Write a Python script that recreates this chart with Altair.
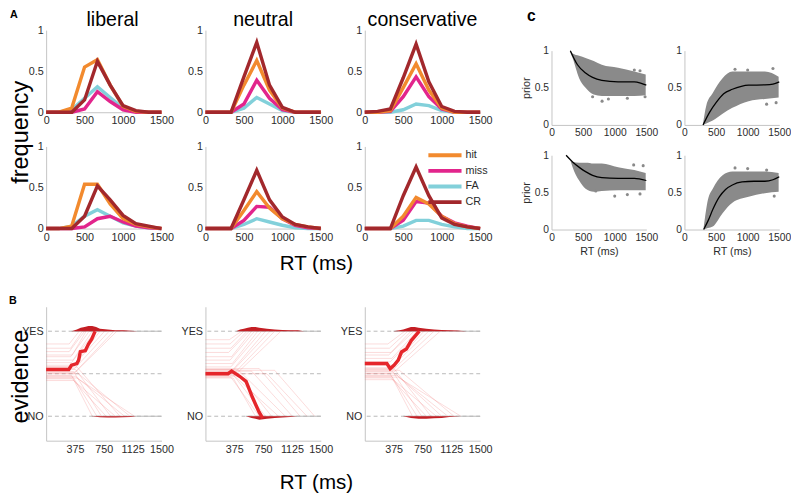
import altair as alt
import pandas as pd

FONT = "Liberation Sans"

# ---------------- Panel A: RT frequency distributions ----------------
RT_BINS = [0, 167, 333, 500, 667, 833, 1000, 1167, 1333, 1500]
OUTCOMES = ["hit", "miss", "FA", "CR"]
OUTCOME_COLORS = ["#F28A2E", "#E2258C", "#82D0DA", "#A2282C"]
CONDITIONS = ["liberal", "neutral", "conservative"]

FREQ_ROW1 = {
    "liberal": {
        "hit":  [0, 0, 0.05, 0.55, 0.64, 0.33, 0.07, 0.01, 0, 0],
        "miss": [0, 0, 0, 0.04, 0.25, 0.13, 0.03, 0, 0, 0],
        "FA":   [0, 0, 0.03, 0.17, 0.31, 0.18, 0.05, 0.01, 0, 0],
        "CR":   [0, 0, 0, 0.15, 0.62, 0.33, 0.08, 0.02, 0, 0],
    },
    "neutral": {
        "hit":  [0, 0, 0, 0.33, 0.63, 0.27, 0.05, 0, 0, 0],
        "miss": [0, 0, 0, 0.10, 0.39, 0.17, 0.03, 0, 0, 0],
        "FA":   [0, 0, 0, 0.05, 0.18, 0.10, 0.02, 0, 0, 0],
        "CR":   [0, 0, 0, 0.43, 0.85, 0.33, 0.06, 0, 0, 0],
    },
    "conservative": {
        "hit":  [0, 0, 0.02, 0.30, 0.59, 0.27, 0.05, 0, 0, 0],
        "miss": [0, 0, 0.01, 0.19, 0.43, 0.19, 0.04, 0, 0, 0],
        "FA":   [0, 0, 0, 0.03, 0.10, 0.08, 0.02, 0, 0, 0],
        "CR":   [0, 0.01, 0.04, 0.42, 0.83, 0.37, 0.07, 0.01, 0, 0],
    },
}
FREQ_ROW2 = {
    "liberal": {
        "hit":  [0, 0, 0.03, 0.54, 0.54, 0.30, 0.12, 0.05, 0.02, 0],
        "miss": [0, 0, 0, 0.02, 0.12, 0.15, 0.08, 0.03, 0.01, 0],
        "FA":   [0, 0, 0.03, 0.15, 0.23, 0.15, 0.07, 0.03, 0.01, 0],
        "CR":   [0, 0, 0, 0.15, 0.52, 0.35, 0.16, 0.06, 0.03, 0],
    },
    "neutral": {
        "hit":  [0, 0, 0, 0.22, 0.45, 0.25, 0.12, 0.05, 0.02, 0],
        "miss": [0, 0, 0, 0.10, 0.27, 0.26, 0.12, 0.04, 0.01, 0],
        "FA":   [0, 0, 0, 0.05, 0.12, 0.08, 0.04, 0.01, 0, 0],
        "CR":   [0, 0, 0, 0.35, 0.71, 0.35, 0.14, 0.05, 0.02, 0],
    },
    "conservative": {
        "hit":  [0, 0, 0, 0.15, 0.38, 0.30, 0.15, 0.06, 0.02, 0],
        "miss": [0, 0, 0, 0.10, 0.33, 0.31, 0.15, 0.07, 0.03, 0],
        "FA":   [0, 0, 0, 0.03, 0.10, 0.10, 0.05, 0.02, 0, 0],
        "CR":   [0, 0, 0, 0.40, 0.75, 0.40, 0.13, 0.05, 0.02, 0],
    },
}

# ---------------- Panel B: evidence trajectories ----------------
# faint single trials: (start level, time leaving start level, time reaching bound)
TRIALS_YES = {
    "liberal": [(0.85, 300, 430), (0.80, 320, 470), (0.76, 300, 500), (0.72, 340, 520),
                (0.70, 320, 560), (0.66, 350, 600), (0.63, 330, 640), (0.60, 360, 700),
                (0.58, 340, 760), (0.56, 370, 820), (0.52, 380, 880), (0.50, 360, 920)],
    "neutral": [(0.90, 310, 470), (0.85, 320, 500), (0.80, 330, 540), (0.75, 300, 570),
                (0.70, 340, 600), (0.66, 320, 640), (0.62, 350, 680), (0.58, 330, 730),
                (0.55, 360, 780), (0.52, 340, 840), (0.50, 370, 900), (0.48, 380, 980)],
    "conservative": [(0.85, 300, 520), (0.80, 320, 560), (0.75, 340, 600), (0.72, 310, 640),
                     (0.68, 350, 680), (0.64, 330, 720), (0.60, 360, 770), (0.57, 340, 830),
                     (0.55, 370, 900), (0.52, 380, 980)],
}
TRIALS_NO = {
    "liberal": [(0.48, 330, 600), (0.46, 350, 660), (0.52, 360, 720), (0.44, 340, 780),
                (0.55, 380, 840), (0.42, 360, 900), (0.58, 400, 960), (0.47, 380, 1020),
                (0.50, 420, 1090), (0.45, 400, 1150)],
    "neutral": [(0.45, 360, 650), (0.46, 330, 700), (0.50, 350, 780), (0.52, 400, 860),
                (0.47, 380, 950), (0.55, 420, 1040), (0.53, 600, 1130), (0.56, 700, 1230),
                (0.50, 800, 1320), (0.54, 900, 1420)],
    "conservative": [(0.50, 330, 620), (0.47, 350, 680), (0.53, 360, 740), (0.45, 340, 800),
                     (0.56, 380, 860), (0.43, 370, 930), (0.50, 400, 1000), (0.48, 420, 1080),
                     (0.54, 450, 1160), (0.46, 430, 1250)],
}
MEAN_T = {
    "liberal": [0, 295, 330, 400, 423, 445, 509, 551, 594, 637],
    "neutral": [0, 294, 340, 444, 528, 612, 696, 729, 745],
    "conservative": [0, 287, 330, 380, 435, 477, 541, 604, 709],
}
MEAN_EV = {
    "liberal": [0.55, 0.55, 0.60, 0.62, 0.66, 0.76, 0.77, 0.85, 0.91, 1.0],
    "neutral": [0.50, 0.50, 0.53, 0.47, 0.41, 0.22, 0.05, 0.0, -0.02],
    "conservative": [0.62, 0.62, 0.56, 0.60, 0.66, 0.755, 0.79, 0.89, 1.0],
}
HIST_YES_T = {
    "liberal": [330, 400, 450, 500, 550, 600, 650, 700, 800, 900, 1000, 1100, 1190],
    "neutral": [401, 450, 500, 550, 600, 650, 700, 800, 900, 1000, 1100, 1200, 1282],
    "conservative": [372, 450, 500, 550, 600, 650, 700, 800, 900, 1000, 1100, 1200, 1323],
}
HIST_YES_H = {
    "liberal": [0, 0.02, 0.04, 0.05, 0.06, 0.06, 0.05, 0.03, 0.02, 0.012, 0.01, 0.006, 0],
    "neutral": [0, 0.02, 0.03, 0.04, 0.05, 0.05, 0.04, 0.03, 0.02, 0.015, 0.01, 0.01, 0],
    "conservative": [0, 0.01, 0.02, 0.035, 0.05, 0.05, 0.04, 0.03, 0.02, 0.015, 0.01, 0.008, 0],
}
HIST_NO_T = {
    "liberal": [590, 700, 800, 900, 1000, 1100, 1170],
    "neutral": [528, 600, 650, 700, 750, 800, 900, 1000, 1100, 1200],
    "conservative": [499, 600, 700, 800, 900, 1000, 1100, 1239],
}
HIST_NO_H = {
    "liberal": [0, 0.012, 0.015, 0.015, 0.012, 0.01, 0],
    "neutral": [0, 0.02, 0.03, 0.04, 0.035, 0.03, 0.02, 0.015, 0.01, 0],
    "conservative": [0, 0.02, 0.03, 0.03, 0.025, 0.02, 0.01, 0],
}
BOUND_LEVELS = [0, 0.5, 1]

# ---------------- Panel C: prior vs RT ----------------
C_BAND_T = {
    "c1": [298, 334, 437, 539, 668, 796, 1053, 1310, 1490],
    "c2": [294, 345, 448, 603, 758, 1015, 1273, 1490],
    "c3": [300, 334, 437, 539, 668, 796, 1053, 1310, 1490],
    "c4": [304, 371, 448, 603, 758, 1015, 1273, 1490],
}
C_BAND_LO = {
    "c1": [0.98, 0.90, 0.63, 0.50, 0.41, 0.39, 0.39, 0.39, 0.40],
    "c2": [0.0, 0.02, 0.06, 0.15, 0.23, 0.32, 0.35, 0.37],
    "c3": [0.93, 0.84, 0.66, 0.55, 0.51, 0.52, 0.53, 0.53, 0.53],
    "c4": [0.0, 0.02, 0.04, 0.22, 0.36, 0.44, 0.49, 0.51],
}
C_BAND_HI = {
    "c1": [1.0, 0.96, 0.93, 0.90, 0.86, 0.81, 0.77, 0.72, 0.68],
    "c2": [0.02, 0.26, 0.43, 0.63, 0.72, 0.72, 0.72, 0.65],
    "c3": [0.93, 0.91, 0.90, 0.90, 0.89, 0.89, 0.84, 0.80, 0.76],
    "c4": [0.03, 0.40, 0.55, 0.73, 0.78, 0.78, 0.78, 0.76],
}
C_OUT_T = {
    "c1": [650, 800, 900, 1200, 1310, 1400, 1480],
    "c2": [800, 1000, 1300, 1400, 1450],
    "c3": [700, 1000, 1200, 1300, 1400, 1450],
    "c4": [800, 1000, 1300, 1420],
}
C_OUT_P = {
    "c1": [0.38, 0.32, 0.35, 0.36, 0.74, 0.73, 0.38],
    "c2": [0.75, 0.74, 0.28, 0.76, 0.30],
    "c3": [0.52, 0.45, 0.47, 0.87, 0.48, 0.86],
    "c4": [0.83, 0.82, 0.80, 0.45],
}
C_FIT_T = {
    "c1": [298, 411, 539, 650, 796, 1053, 1310, 1420, 1500],
    "c2": [294, 397, 500, 620, 758, 900, 1015, 1273, 1400, 1500],
    "c3": [231, 334, 450, 539, 650, 796, 1053, 1310, 1500],
    "c4": [304, 380, 448, 552, 650, 758, 912, 1100, 1273, 1400, 1500],
}
C_FIT_P = {
    "c1": [1.0, 0.81, 0.70, 0.64, 0.60, 0.58, 0.58, 0.56, 0.535],
    "c2": [0.0, 0.17, 0.30, 0.42, 0.48, 0.52, 0.535, 0.54, 0.55, 0.58],
    "c3": [1.0, 0.91, 0.83, 0.78, 0.73, 0.70, 0.69, 0.69, 0.66],
    "c4": [0.0, 0.13, 0.27, 0.44, 0.54, 0.60, 0.64, 0.65, 0.65, 0.67, 0.71],
}

AXIS_GRAY = "#c4c4c4"
LABEL_COLOR = "#2b2b2b"
Y_LABELS = "'' + datum.value"


def letter_layer(letter, x, y, size):
    return alt.Chart(pd.DataFrame({"l": [letter]})).mark_text(
        align="left", baseline="alphabetic", fontSize=size, fontWeight="bold", font=FONT,
        color="black").encode(x=alt.value(x), y=alt.value(y), text="l:N")


LEGEND = alt.Legend(orient="none", legendX=389, legendY=120, title=None,
                    symbolType="stroke", symbolStrokeWidth=4, symbolSize=1150,
                    clipHeight=16, rowPadding=0,
                    labelFontSize=11, labelFont=FONT, labelColor=LABEL_COLOR,
                    symbolOffset=0, labelOffset=2)


# ---------------- builders ----------------
def freq_chart(table, cond, title=None, x_title=None, y_title=None, letter=None):
    rows = []
    for oc in ["FA", "miss", "hit", "CR"]:
        for t, v in zip(RT_BINS, table[cond][oc]):
            rows.append({"rt": t, "freq": v, "outcome": oc})
    df = pd.DataFrame(rows)
    xkw = dict(values=[0, 500, 1000, 1500], format="d", title=None)
    if x_title:
        xkw.update(title=x_title, titleFontSize=21, titleFontWeight="normal",
                   titleColor="black", titleX=113, titleY=42, titleAlign="center",
                   titleBaseline="alphabetic", titleAngle=0)
    ykw = dict(values=[0, 0.5, 1], labelExpr=Y_LABELS, title=None)
    if y_title:
        ykw.update(title=y_title, titleFontSize=24, titleFontWeight="normal",
                   titleColor="black", titleX=-26, titleY=104, titleAlign="center",
                   titleBaseline="middle", titleAngle=-90)
    ch = alt.Chart(df).mark_line(strokeWidth=3.5, strokeJoin="miter").encode(
        x=alt.X("rt:Q", scale=alt.Scale(domain=[0, 1500], nice=False), axis=alt.Axis(**xkw)),
        y=alt.Y("freq:Q", scale=alt.Scale(domain=[0, 1], nice=False), axis=alt.Axis(**ykw)),
        color=alt.Color("outcome:N", scale=alt.Scale(domain=OUTCOMES, range=OUTCOME_COLORS),
                        legend=LEGEND),
        detail="outcome:N",
    )
    if letter:
        ch = alt.layer(ch, letter_layer(letter, -37, -131, 11))
    props = dict(width=118, height=84)
    if title:
        props["title"] = alt.TitleParams(title, fontSize=20, fontWeight="normal", font=FONT,
                                         color="black", baseline="alphabetic", offset=0,
                                         dy=22, dx=9 if cond == "liberal" else 0)
    return ch.properties(**props)


def evidence_chart(cond, x_title=None, y_title=None, letter=None):
    xkw = dict(values=[375, 750, 1125, 1500], format="d", title=None)
    if x_title:
        xkw.update(title=x_title, titleFontSize=21, titleFontWeight="normal",
                   titleColor="black", titleX=113, titleY=49, titleAlign="center",
                   titleBaseline="alphabetic", titleAngle=0)
    ykw = dict(values=[0, 1], title=None, labelExpr="datum.value == 1 ? 'YES' : 'NO'")
    if y_title:
        ykw.update(title=y_title, titleFontSize=24, titleFontWeight="normal",
                   titleColor="black", titleX=-26, titleY=71, titleAlign="center",
                   titleBaseline="middle", titleAngle=-90)
    xa = alt.Axis(**xkw)
    ya = alt.Axis(**ykw)
    xs = alt.Scale(domain=[0, 1500], nice=False)
    ys = alt.Scale(domain=[-0.2875, 1.2875], nice=False)

    def X(f):
        return alt.X(f, type="quantitative", scale=xs, axis=xa)

    def Y(f):
        return alt.Y(f, type="quantitative", scale=ys, axis=ya)

    dashed = alt.Chart(pd.DataFrame({"lvl": BOUND_LEVELS})).mark_rule(
        strokeDash=[4, 3], color="#b8b8b8", strokeWidth=1).encode(y=Y("lvl"))
    seg = pd.DataFrame({"lvl": [1, 0],
                        "start": [HIST_YES_T[cond][0], HIST_NO_T[cond][0]],
                        "end": [1500, 1500]})
    solid = alt.Chart(seg).mark_rule(color="#b8b8b8", strokeWidth=1).encode(
        x=X("start"), x2="end", y=Y("lvl"))

    rows = []
    k = 0
    for target, trials in ((1.0, TRIALS_YES[cond]), (0.0, TRIALS_NO[cond])):
        for (y0, leave, end) in trials:
            for s, (t, v) in enumerate([(0, y0), (leave, y0), (end, target)]):
                rows.append({"trial": k, "step": s, "t": t, "ev": v})
            k += 1
    faint = alt.Chart(pd.DataFrame(rows)).mark_line(
        color="#f07a7a", strokeWidth=0.6, opacity=0.45).encode(
        x=X("t"), y=Y("ev"), detail="trial:N", order="step:Q")

    hrows = []
    for t, h in zip(HIST_YES_T[cond], HIST_YES_H[cond]):
        hrows.append({"side": "yes", "t": t, "b": 1.0, "top": 1.0 + h})
    for t, h in zip(HIST_NO_T[cond], HIST_NO_H[cond]):
        hrows.append({"side": "no", "t": t, "b": 0.0, "top": -h})
    hist = alt.Chart(pd.DataFrame(hrows)).mark_area(color="#c41e24").encode(
        x=X("t"), y=Y("b"), y2="top", detail="side:N")

    mdf = pd.DataFrame({"t": MEAN_T[cond], "ev": MEAN_EV[cond],
                        "step": list(range(len(MEAN_T[cond])))})
    mean = alt.Chart(mdf).mark_line(color="#e5262b", strokeWidth=3.5).encode(
        x=X("t"), y=Y("ev"), order="step:Q")

    layers = [dashed, solid, faint, hist, mean]
    if letter:
        layers.append(letter_layer(letter, -38, -3, 11))
    return alt.layer(*layers).properties(width=118, height=137)


def prior_chart(key, y_title=None, x_title=None, letter=None):
    xs = alt.Scale(domain=[0, 1500], nice=False)
    ys = alt.Scale(domain=[0, 1], nice=False)
    xa = alt.Axis(values=[0, 500, 1000, 1500], format="d", title=x_title, titleFontSize=11,
                  titleFontWeight="normal", titleColor=LABEL_COLOR, titlePadding=3,
                  labelFontSize=10.5)
    ya = alt.Axis(values=[0, 0.5, 1], labelExpr=Y_LABELS, title=y_title, titleFontSize=11,
                  titleFontWeight="normal", titleColor=LABEL_COLOR, titlePadding=3,
                  labelFontSize=10.5)
    band_df = pd.DataFrame({"t": C_BAND_T[key], "lo": C_BAND_LO[key], "hi": C_BAND_HI[key]})
    band = alt.Chart(band_df).mark_area(color="#8a8a8a", interpolate="monotone").encode(
        x=alt.X("t:Q", scale=xs, axis=xa), y=alt.Y("lo:Q", scale=ys, axis=ya), y2="hi")
    out_df = pd.DataFrame({"t": C_OUT_T[key], "p": C_OUT_P[key]})
    pts = alt.Chart(out_df).mark_circle(color="#8a8a8a", size=10, opacity=1).encode(
        x=alt.X("t:Q", scale=xs, axis=xa), y=alt.Y("p:Q", scale=ys, axis=ya))
    fit_df = pd.DataFrame({"t": C_FIT_T[key], "p": C_FIT_P[key]})
    fit = alt.Chart(fit_df).mark_line(color="black", strokeWidth=1.3,
                                      interpolate="monotone").encode(
        x=alt.X("t:Q", scale=xs, axis=xa), y=alt.Y("p:Q", scale=ys, axis=ya))
    layers = [band, pts, fit]
    if letter:
        layers.append(letter_layer(letter, -25, -30, 16))
    return alt.layer(*layers).properties(width=97, height=76)


def spacer(w, h):
    return alt.Chart(pd.DataFrame({"a": [0]})).mark_point(opacity=0).encode(
        x=alt.X("a:Q", axis=None), y=alt.Y("a:Q", axis=None)).properties(width=w, height=h)


left_grid = alt.concat(
    freq_chart(FREQ_ROW1, "liberal", title="liberal", y_title="frequency"),
    freq_chart(FREQ_ROW1, "neutral", title="neutral"),
    freq_chart(FREQ_ROW1, "conservative", title="conservative"),
    freq_chart(FREQ_ROW2, "liberal", letter="A"),
    freq_chart(FREQ_ROW2, "neutral", x_title="RT (ms)"),
    freq_chart(FREQ_ROW2, "conservative"),
    spacer(118, 10), spacer(118, 10), spacer(118, 10),
    evidence_chart("liberal", letter="B", y_title="evidence"),
    evidence_chart("neutral", x_title="RT (ms)"),
    evidence_chart("conservative"),
    columns=3, spacing=alt.RowColnumber(row=35, column=45), bounds="flush")

right_grid = alt.concat(
    prior_chart("c1", y_title="prior", letter="c"),
    prior_chart("c2"),
    prior_chart("c3", y_title="prior", x_title="RT (ms)"),
    prior_chart("c4", x_title="RT (ms)"),
    columns=2, spacing=alt.RowColnumber(row=31, column=39), bounds="flush")

right_col = alt.vconcat(spacer(1, 1), right_grid, spacing=20, bounds="flush")

chart = alt.hconcat(left_grid, right_col, spacing=28).properties(
    padding={"top": -5, "left": 0, "right": 0, "bottom": 0}
).configure_view(stroke=None).configure_axis(
    domainColor=AXIS_GRAY, domainWidth=1, ticks=False, grid=False,
    labelFont=FONT, labelFontSize=11, labelColor=LABEL_COLOR, labelPadding=3,
    labelOverlap=False, labelFlush=False, labelBound=False,
    titleFont=FONT
).configure_legend(labelFont=FONT)

chart.save("out.html", embed_options={"renderer": "svg", "actions": False})
